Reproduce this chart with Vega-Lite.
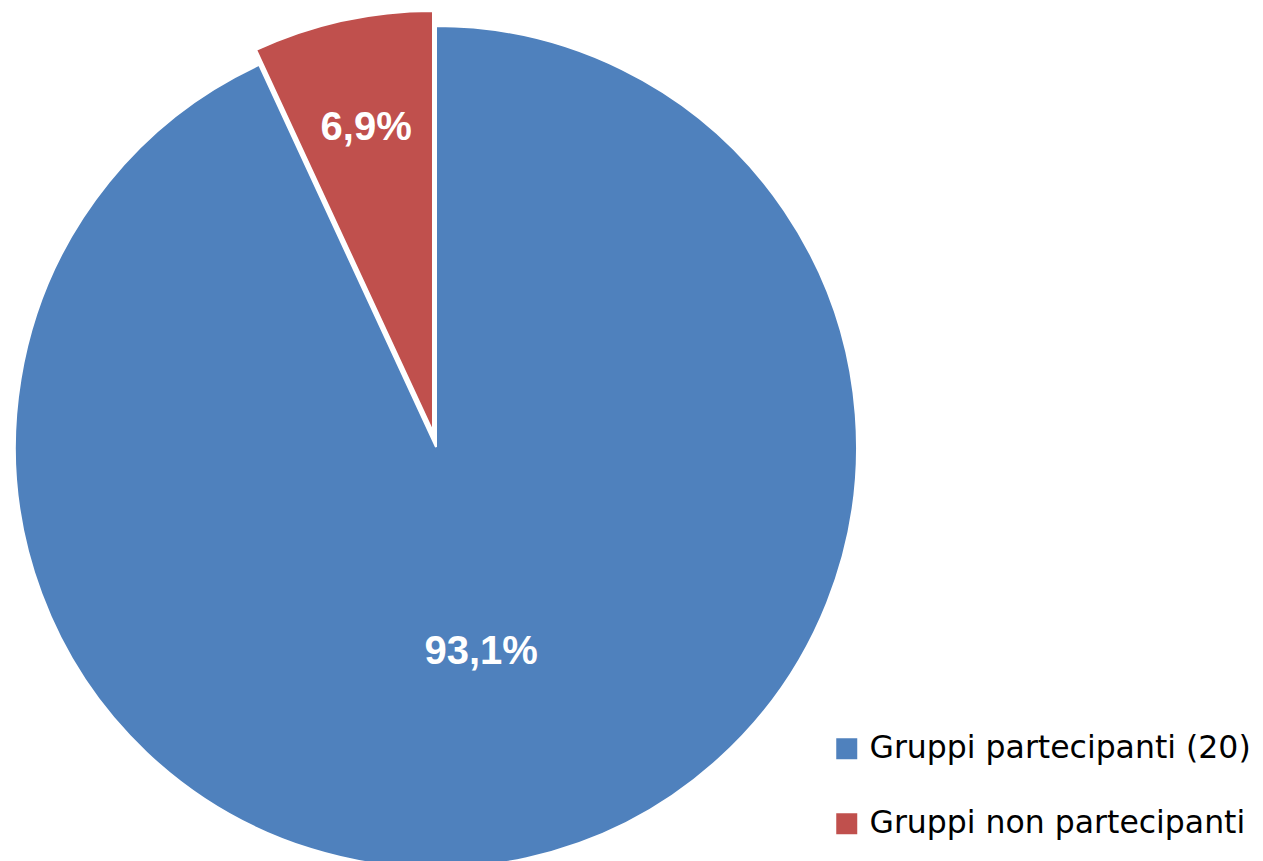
{
  "$schema": "https://vega.github.io/schema/vega-lite/v6.json",
  "width": 872,
  "height": 894,
  "padding": 0,
  "background": "white",
  "data": {
    "values": [
      {"category": "Gruppi partecipanti (20)", "share": 0.931},
      {"category": "Gruppi non partecipanti", "share": 0.069}
    ]
  },
  "encoding": {
    "theta": {"field": "share", "type": "quantitative", "stack": true},
    "order": {"field": "share", "type": "quantitative", "sort": "descending"}
  },
  "layer": [
    {
      "mark": {"type": "arc", "outerRadius": 421, "stroke": "white", "strokeWidth": 2},
      "encoding": {
        "color": {
          "field": "category",
          "type": "nominal",
          "scale": {"domain": ["Gruppi partecipanti (20)", "Gruppi non partecipanti"], "range": ["#4F81BD", "#C0504D"]},
          "legend": {"title": null}
        },
        "opacity": {"condition": {"test": "datum.category === 'Gruppi partecipanti (20)'", "value": 1}, "value": 0}
      }
    },
    {
      "mark": {"type": "arc", "outerRadius": 421, "stroke": "white", "strokeWidth": 2, "xOffset": -3, "yOffset": -15},
      "encoding": {
        "color": {
          "field": "category",
          "type": "nominal",
          "scale": {"domain": ["Gruppi partecipanti (20)", "Gruppi non partecipanti"], "range": ["#4F81BD", "#C0504D"]},
          "legend": {"title": null}
        },
        "opacity": {"condition": {"test": "datum.category === 'Gruppi non partecipanti'", "value": 1}, "value": 0}
      }
    },
    {
      "mark": {"type": "text", "radius": 210, "font": "Liberation Sans", "fontWeight": "bold", "fontSize": 40, "fill": "white", "align": "center", "baseline": "middle"},
      "encoding": {
        "text": {"field": "share", "type": "quantitative", "format": ".1%"},
        "opacity": {"condition": {"test": "datum.category === 'Gruppi partecipanti (20)'", "value": 1}, "value": 0}
      }
    },
    {
      "mark": {"type": "text", "radius": 311, "xOffset": -3, "yOffset": -15, "font": "Liberation Sans", "fontWeight": "bold", "fontSize": 40, "fill": "white", "align": "center", "baseline": "middle"},
      "encoding": {
        "text": {"field": "share", "type": "quantitative", "format": ".1%"},
        "opacity": {"condition": {"test": "datum.category === 'Gruppi non partecipanti'", "value": 1}, "value": 0}
      }
    }
  ],
  "config": {
    "view": {"stroke": null},
    "locale": {"number": {"decimal": ",", "thousands": ".", "grouping": [3], "currency": ["", " €"]}},
    "legend": {
      "orient": "none",
      "legendX": 831,
      "legendY": 733,
      "symbolType": "square",
      "symbolSize": 441,
      "symbolStrokeWidth": 0,
      "symbolOpacity": 1,
      "labelFont": "DejaVu Sans",
      "labelFontSize": 31.5,
      "labelColor": "#000000",
      "labelLimit": 0,
      "labelOffset": 7,
      "rowPadding": 42,
      "padding": 0
    }
  }
}
